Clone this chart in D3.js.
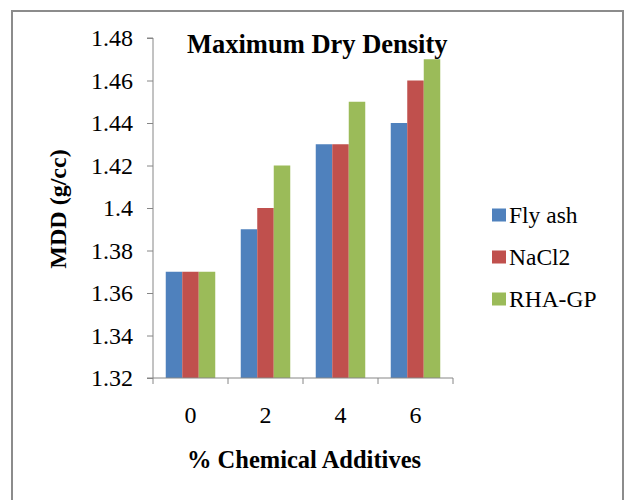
<!DOCTYPE html>
<html>
<head>
<meta charset="utf-8">
<script src="https://cdn.jsdelivr.net/npm/d3@7"></script>
<style>
  body { margin: 0; background: #fff; }
</style>
</head>
<body>
<div id="chart"></div>
<script>
// --- data ---
const categories = ["0", "2", "4", "6"];
const seriesNames = ["Fly ash", "NaCl2", "RHA-GP"];
const flyAsh = [1.37, 1.39, 1.43, 1.44];
const nacl2 = [1.37, 1.40, 1.43, 1.46];
const rhaGp = [1.37, 1.42, 1.45, 1.47];
const yTicks = [1.32, 1.34, 1.36, 1.38, 1.40, 1.42, 1.44, 1.46, 1.48];
const colors = ["#4F81BD", "#C0504D", "#9BBB59"];

const seriesValues = [flyAsh, nacl2, rhaGp];
const FONT = "'Liberation Serif', 'Times New Roman', serif";

const W = 626, H = 500;
const plot = { left: 153, right: 453, top: 38, bottom: 378 };

const svg = d3.select("#chart").append("svg")
    .attr("width", W).attr("height", H)
    .style("font-family", FONT);

// outer frame
svg.append("rect")
    .attr("x", 12).attr("y", 11)
    .attr("width", 611).attr("height", 500)
    .attr("fill", "#fff")
    .attr("stroke", "#8c8c8c")
    .attr("stroke-width", 2);

const x0 = d3.scaleBand().domain(categories)
    .range([plot.left, plot.right]).paddingInner(0.34).paddingOuter(0.17);
const x1 = d3.scaleBand().domain(seriesNames).range([0, x0.bandwidth()]);
const y = d3.scaleLinear().domain([1.32, 1.48]).range([plot.bottom, plot.top]);

// bars
seriesNames.forEach((name, si) => {
    svg.append("g").selectAll("rect")
        .data(categories.map((c, i) => ({ c, v: seriesValues[si][i] })))
        .join("rect")
        .attr("x", d => x0(d.c) + x1(name))
        .attr("width", x1.bandwidth())
        .attr("y", d => y(d.v))
        .attr("height", d => y(1.32) - y(d.v))
        .attr("fill", colors[si]);
});

// y axis
const yAxis = svg.append("g")
    .attr("transform", `translate(${plot.left},0)`)
    .call(d3.axisLeft(y).tickValues(yTicks).tickSize(6).tickPadding(14)
        .tickFormat(d => d3.format("")(+d.toFixed(2))));
yAxis.attr("font-family", null);
yAxis.selectAll("text").style("font-size", "24px").style("font-family", FONT);

// x axis
const xAxis = svg.append("g")
    .attr("transform", `translate(0,${plot.bottom})`)
    .call(d3.axisBottom(x0).tickSize(0).tickPadding(28));
xAxis.attr("font-family", null);
xAxis.selectAll("text").style("font-size", "24px").style("font-family", FONT);
// category boundary ticks
const bounds = [plot.left].concat(categories.map(c => x0(c) + x0.bandwidth() + x0.step() * x0.paddingInner() / 2));
bounds[bounds.length - 1] = plot.right;
xAxis.selectAll(".bound").data(bounds).join("line")
    .attr("class", "bound")
    .attr("x1", d => d).attr("x2", d => d)
    .attr("y1", 0).attr("y2", 6)
    .attr("stroke", "#868686");

svg.selectAll(".domain").attr("stroke", "#868686");
svg.selectAll(".tick line").attr("stroke", "#868686");
yAxis.select(".domain").attr("d", `M-6,${plot.bottom}H0V${plot.top}H-6`);
xAxis.select(".domain").attr("d", `M${plot.left},0H${plot.right}`);

// titles
svg.append("text")
    .attr("x", 187).attr("y", 53)
    .style("font-size", "26.5px").style("font-weight", "bold")
    .text("Maximum Dry Density");

svg.append("text")
    .attr("x", 304).attr("y", 468)
    .attr("text-anchor", "middle")
    .style("font-size", "24.5px").style("font-weight", "bold")
    .text("% Chemical Additives");

svg.append("text")
    .attr("transform", "translate(66,209) rotate(-90)")
    .attr("text-anchor", "middle")
    .style("font-size", "24px").style("font-weight", "bold")
    .text("MDD (g/cc)");

// legend
const legend = svg.append("g");
seriesNames.forEach((name, i) => {
    const cy = 215 + i * 42;
    legend.append("rect")
        .attr("x", 492).attr("y", cy - 6.5)
        .attr("width", 14).attr("height", 13)
        .attr("fill", colors[i]);
    legend.append("text")
        .attr("x", 509).attr("y", cy)
        .attr("dy", "0.35em")
        .style("font-size", "23.5px")
        .text(name);
});
</script>
</body>
</html>
